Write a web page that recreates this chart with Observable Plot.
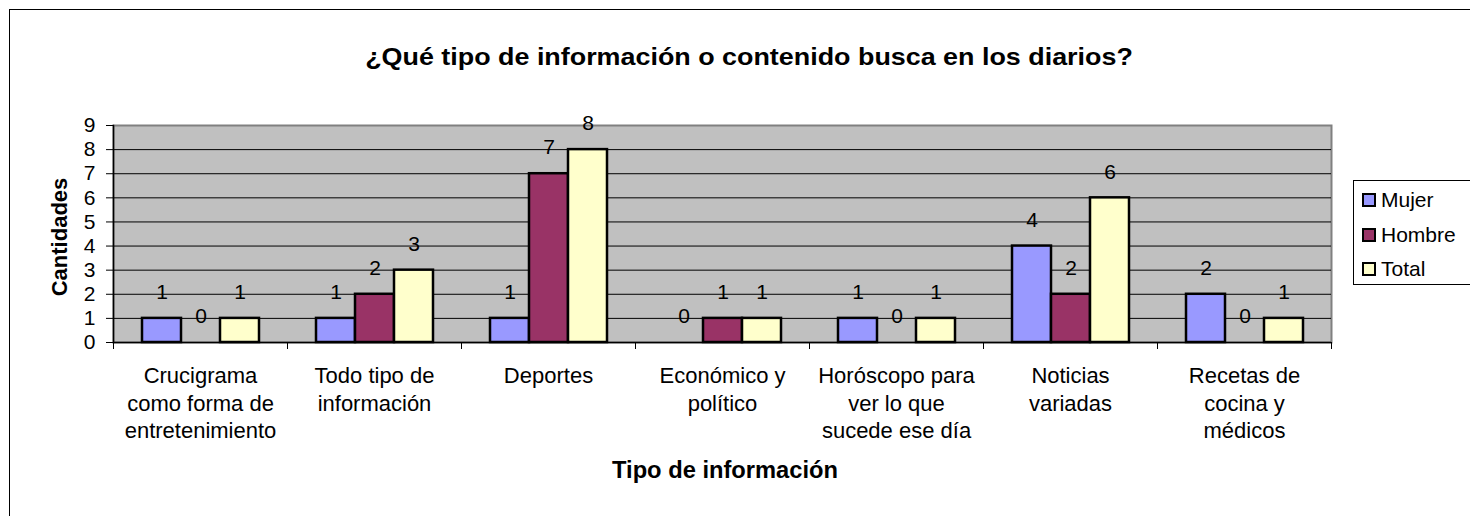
<!DOCTYPE html>
<html>
<head>
<meta charset="utf-8">
<script src="https://cdn.jsdelivr.net/npm/d3@7"></script>
<script src="https://cdn.jsdelivr.net/npm/@observablehq/plot@0.6"></script>
<style>
html, body { margin: 0; padding: 0; background: #fff; }
body { width: 1470px; height: 516px; position: relative; overflow: hidden; font-family: "Liberation Sans", Arial, sans-serif; color: #000; }
#border { position: absolute; left: 9px; top: 9px; width: 1520px; height: 600px; border: 1px solid #000; box-sizing: border-box; }
#chart { position: absolute; left: 0; top: 0; }
.lbl { position: absolute; white-space: nowrap; font-weight: bold; }
#legend { position: absolute; left: 1353px; top: 180px; width: 140px; height: 105px; border: 1px solid #000; box-sizing: border-box; background: #fff; }
.item { position: absolute; left: 8px; height: 24px; display: flex; align-items: center; font-size: 21px; transform: translateY(-50%); }
.sw { width: 14px; height: 14px; border: 2px solid #000; box-sizing: border-box; margin-right: 5px; }
</style>
</head>
<body>
<div id="border"></div>
<div id="chart"></div>
<div class="lbl" id="title" style="left:749px; top:57px; font-size:24px; transform: translate(-50%,-50%) scaleX(1.12);"></div>
<div class="lbl" id="ytitle" style="left:60px; top:237px; font-size:22px; transform: translate(-50%,-50%) rotate(-90deg);"></div>
<div class="lbl" id="xtitle" style="left:725px; top:470px; font-size:23px; transform: translate(-50%,-50%) scaleX(1.03);"></div>
<div id="legend"></div>
<script>
const titulo = "¿Qué tipo de información o contenido busca en los diarios?";
const tituloY = "Cantidades";
const tituloX = "Tipo de información";
const categorias = [
  "Crucigrama como forma de entretenimiento",
  "Todo tipo de información",
  "Deportes",
  "Económico y político",
  "Horóscopo para ver lo que sucede ese día",
  "Noticias variadas",
  "Recetas de cocina y médicos"
];
const etiquetas = [
  "Crucigrama\ncomo forma de\nentretenimiento",
  "Todo tipo de\ninformación",
  "Deportes",
  "Económico y\npolítico",
  "Horóscopo para\nver lo que\nsucede ese día",
  "Noticias\nvariadas",
  "Recetas de\ncocina y\nmédicos"
];
const series = ["Mujer", "Hombre", "Total"];
const mujer  = [1, 1, 1, 0, 1, 4, 2];
const hombre = [0, 2, 7, 1, 0, 2, 0];
const total  = [1, 3, 8, 1, 1, 6, 1];
const yTicks = [0, 1, 2, 3, 4, 5, 6, 7, 8, 9];
const colores = ["#9999FF", "#993366", "#FFFFCC"];

const valores = [mujer, hombre, total];
const data = categorias.flatMap((c, i) => series.map((s, j) => ({categoria: c, serie: s, valor: valores[j][i]})));

const W = 1470, H = 516, mL = 113, mR = 139, mT = 125, mB = 174;
const facetHalf = (W - mL - mR) / categorias.length / 2;
const font = "'Liberation Sans', Arial, sans-serif";

const chart = Plot.plot({
  width: W, height: H,
  marginLeft: mL, marginRight: mR, marginTop: mT, marginBottom: mB,
  style: {fontFamily: font, fontSize: "21px", color: "#000", background: "transparent", overflow: "visible"},
  fx: {domain: categorias, padding: 0, axis: null},
  x: {domain: series, paddingInner: 0, paddingOuter: 0.72, axis: null},
  y: {domain: [0, 9], axis: null},
  color: {domain: series, range: colores},
  marks: [
    Plot.frame({facet: "super", fill: "#C0C0C0", stroke: "#808080", strokeWidth: 2}),
    Plot.ruleY(yTicks.slice(1, -1), {stroke: "#000", strokeWidth: 1}),
    Plot.barY(data, {fx: "categoria", x: "serie", y: "valor", fill: "serie", stroke: "#000", strokeWidth: 2.5}),
    Plot.text(data, {fx: "categoria", x: "serie", y: "valor", text: d => String(d.valor), dy: -26, fontSize: 21, fill: "#000"}),
    Plot.ruleY([0], {stroke: "#000", strokeWidth: 1.5}),
    Plot.frame({facet: "super", anchor: "left", stroke: "#000", strokeWidth: 1.5}),
    Plot.axisY({ticks: yTicks, tickSize: 7, tickPadding: 11, label: null, fontSize: 21}),
    Plot.axisFx({anchor: "bottom", tickSize: 0, tickPadding: 21, label: null, fontSize: 22, lineHeight: 1.25,
                 tickFormat: d => etiquetas[categorias.indexOf(d)]}),
    Plot.axisFx({anchor: "bottom", tickSize: 7, dx: -facetHalf, tickFormat: () => "", label: null}),
    Plot.axisFx({anchor: "bottom", tickSize: 7, dx: facetHalf, tickFormat: () => "", label: null})
  ]
});
document.getElementById("chart").appendChild(chart);

document.getElementById("title").textContent = titulo;
document.getElementById("ytitle").textContent = tituloY;
document.getElementById("xtitle").textContent = tituloX;

const legend = document.getElementById("legend");
const rowsY = [19, 54, 88];
series.forEach((s, i) => {
  const it = document.createElement("div");
  it.className = "item";
  it.style.top = rowsY[i] + "px";
  const sw = document.createElement("div");
  sw.className = "sw";
  sw.style.background = colores[i];
  const t = document.createElement("span");
  t.textContent = s;
  it.appendChild(sw);
  it.appendChild(t);
  legend.appendChild(it);
});
</script>
</body>
</html>
